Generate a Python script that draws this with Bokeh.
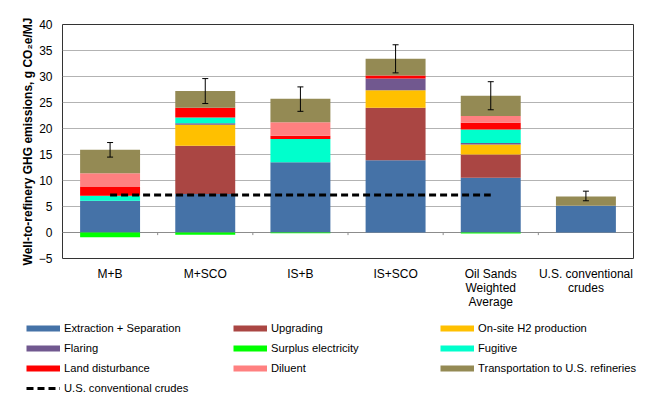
from bokeh.plotting import figure
from bokeh.models import (ColumnDataSource, Legend, LegendItem, Whisker, TeeHead,
                          FixedTicker, Range1d, Span)
from bokeh.embed import file_html
from bokeh.resources import INLINE

# ---------------- data ----------------
categories = ["M+B", "M+SCO", "IS+B", "IS+SCO",
              "Oil Sands\nWeighted\nAverage", "U.S. conventional\ncrudes"]
extraction = [6.1, 7.4, 13.5, 13.9, 10.55, 5.15]
upgrading = [0.0, 9.3, 0.0, 10.1, 4.45, 0.0]
h2_production = [0.0, 4.0, 0.0, 3.35, 1.9, 0.0]
flaring = [0.0, 0.3, 0.0, 2.25, 0.3, 0.0]
fugitive = [0.95, 1.1, 4.5, 0.0, 2.6, 0.0]
land_disturbance = [1.8, 1.9, 0.6, 0.6, 1.3, 0.0]
diluent = [2.55, 0.0, 2.6, 0.0, 1.3, 0.0]
transportation = [4.5, 3.2, 4.5, 3.2, 3.9, 1.75]
surplus_electricity = [-0.9, -0.45, -0.15, 0.0, -0.2, 0.0]
err_low = [14.5, 24.8, 23.3, 30.7, 23.6, 6.1]
err_high = [17.3, 29.6, 28.0, 36.1, 29.0, 7.95]
us_conventional_level = 7.2
dash_from, dash_to = "M+B", "Oil Sands\nWeighted\nAverage"
y_ticks = [-5, 0, 5, 10, 15, 20, 25, 30, 35, 40]

colors = {
    "Extraction + Separation": "#4572A7",
    "Upgrading": "#AA4643",
    "On-site H2 production": "#FFC000",
    "Flaring": "#71588F",
    "Surplus electricity": "#00FF00",
    "Fugitive": "#00FFCC",
    "Land disturbance": "#FF0000",
    "Diluent": "#FF8080",
    "Transportation to U.S. refineries": "#948A54",
}
legend_order = ["Extraction + Separation", "Upgrading", "On-site H2 production",
                "Flaring", "Surplus electricity", "Fugitive",
                "Land disturbance", "Diluent", "Transportation to U.S. refineries"]

FONT = "Liberation Sans"
xs = list(range(len(categories)))
src = ColumnDataSource(dict(
    x=xs, extraction=extraction, upgrading=upgrading, h2=h2_production,
    flaring=flaring, fugitive=fugitive, land=land_disturbance, diluent=diluent,
    transport=transportation, surplus=surplus_electricity,
    err_low=err_low, err_high=err_high))

p = figure(width=657, height=312, output_backend="svg", toolbar_location=None,
           x_range=Range1d(-0.5, len(categories) - 0.5), y_range=Range1d(-5, 40),
           min_border_left=62, min_border_right=24, min_border_top=24,
           min_border_bottom=52)
p.outline_line_color = "#333333"
p.outline_line_width = 1
p.xgrid.grid_line_color = None
p.ygrid.grid_line_color = "#b3b3b3"
p.ygrid.ticker = FixedTicker(ticks=y_ticks)

zero = Span(location=0, dimension="width", line_color="#8c8c8c", line_width=1,
            level="underlay")
p.add_layout(zero)
bounds = [i + 0.5 for i in xs[:-1]]
p.segment(x0=bounds, y0=[0] * len(bounds), x1=bounds, y1=[-0.5] * len(bounds),
          line_color="#8c8c8c", line_width=1)

stack_cols = ["extraction", "upgrading", "h2", "flaring", "fugitive", "land",
              "diluent", "transport"]
stack_series = ["Extraction + Separation", "Upgrading", "On-site H2 production",
                "Flaring", "Fugitive", "Land disturbance", "Diluent",
                "Transportation to U.S. refineries"]
p.vbar_stack(stack_cols, x="x", width=0.63, source=src,
             fill_color=[colors[s] for s in stack_series], line_color=None)
p.vbar(x="x", top=0, bottom="surplus", width=0.63, source=src,
       fill_color=colors["Surplus electricity"], line_color=None)

dash_x = [categories.index(dash_from), categories.index(dash_to)]
p.line(x=dash_x, y=[us_conventional_level] * 2, line_color="black",
       line_width=3, line_dash="7 4")

w = Whisker(source=src, base="x", lower="err_low", upper="err_high",
            line_color="black", line_width=1, level="overlay",
            upper_head=TeeHead(size=6, line_color="black", line_width=1),
            lower_head=TeeHead(size=6, line_color="black", line_width=1))
p.add_layout(w)

# axes
p.xaxis.ticker = FixedTicker(ticks=xs)
p.xaxis.major_label_overrides = {i: c for i, c in enumerate(categories)}
p.xaxis.axis_line_color = None
p.xaxis.major_tick_line_color = None
p.xaxis.major_tick_out = 0
p.xaxis.major_tick_in = 0
p.xaxis.minor_tick_line_color = None
p.xaxis.major_label_standoff = 8
p.xaxis.major_label_text_font = FONT
p.xaxis.major_label_text_font_size = "12px"
p.xaxis.major_label_text_line_height = 1.03
p.xaxis.major_label_text_color = "black"

p.yaxis.ticker = FixedTicker(ticks=y_ticks)
p.yaxis.axis_line_color = None
p.yaxis.major_tick_line_color = None
p.yaxis.major_tick_out = 0
p.yaxis.major_tick_in = 0
p.yaxis.minor_tick_line_color = None
p.yaxis.major_label_standoff = 10
p.yaxis.major_label_text_font = FONT
p.yaxis.major_label_text_font_size = "12px"
p.yaxis.major_label_text_color = "black"
p.yaxis.axis_label = "Well-to-refinery GHG emissions, g CO\u2082e/MJ"
p.yaxis.axis_label_text_font = FONT
p.yaxis.axis_label_text_font_size = "12px"
p.yaxis.axis_label_text_font_style = "bold"
p.yaxis.axis_label_text_color = "black"
p.yaxis.axis_label_standoff = 1

# ---------------- legend panel (separate root, full-width frame) ----------------
lp = figure(width=657, height=96, output_backend="svg", toolbar_location=None,
            x_axis_location=None, y_axis_location=None, min_border=0,
            x_range=Range1d(0, 1), y_range=Range1d(0, 1))
lp.outline_line_color = None
lp.grid.visible = False

nan = float("nan")

def proxy(color, width=6, dash="solid"):
    return lp.line(x=[nan], y=[nan], line_color=color, line_width=width,
                   line_dash=dash)

items = [LegendItem(label=n, renderers=[proxy(colors[n])]) for n in legend_order]
items.append(LegendItem(label="U.S. conventional crudes",
                        renderers=[proxy("black", 3, "7 4")]))

lg = Legend(items=items, location=(26, 10), orientation="horizontal", ncols=3,
            padding=0, margin=0, spacing=0, glyph_width=34, glyph_height=20,
            label_height=20, label_width=169, label_standoff=4,
            label_text_font=FONT, label_text_font_size="11.2px",
            label_text_color="black", border_line_color=None,
            background_fill_alpha=0)
lp.add_layout(lg, "center")

open("out.html", "w").write(file_html([p, lp], INLINE))
